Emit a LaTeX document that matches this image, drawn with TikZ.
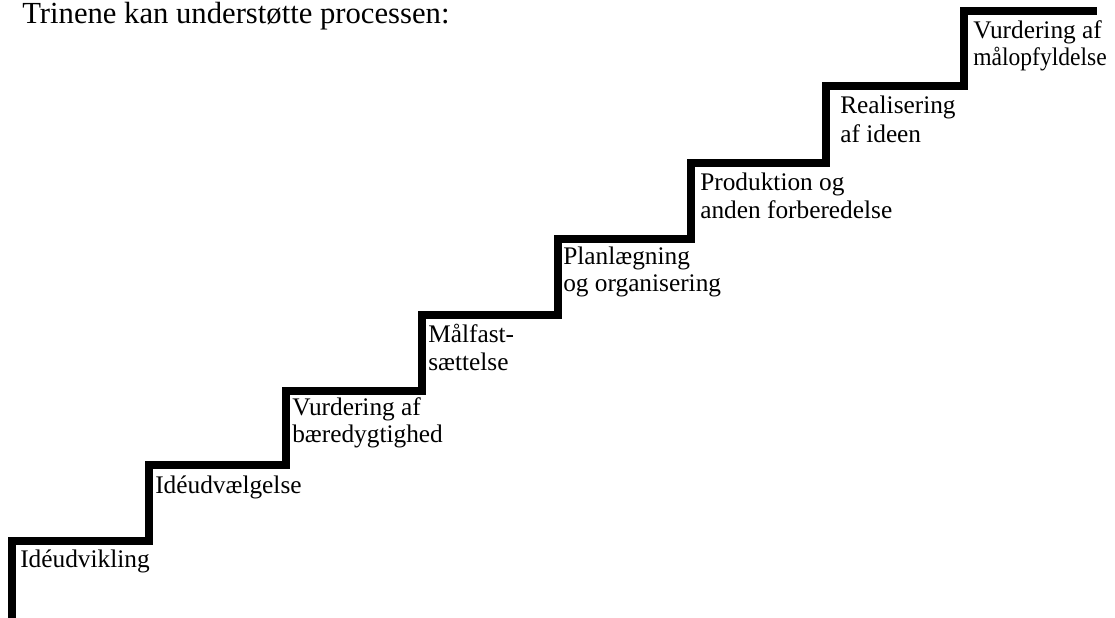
\documentclass[tikz,border=0pt]{standalone}
\usepackage{fontspec}
\setmainfont{Liberation Serif}
\begin{document}
\begin{tikzpicture}[x=0.75pt,y=-0.75pt,
  stair/.style={line width=6pt,line join=miter,line cap=butt,black},
  lbl/.style={anchor=base west,inner sep=0pt,font=\fontsize{19}{22}\selectfont},
  ttl/.style={anchor=base west,inner sep=0pt,font=\fontsize{23}{26}\selectfont}]
\useasboundingbox (0,0) rectangle (1115,618);
\draw[stair] (12,625) -- (12,541) -- (149,541) -- (149,465) -- (286,465) -- (286,391)
  -- (422,391) -- (422,315) -- (558,315) -- (558,239) -- (691,239) -- (691,163)
  -- (826,163) -- (826,86) -- (964,86) -- (964,11) -- (1097,11);
\node[ttl] (title) at (22,23) {Trinene kan understøtte processen:};
\node[lbl] (s1) at (20,567) {Idéudvikling};
\node[lbl] (s2) at (155,493) {Idéudvælgelse};
\node[lbl] (s3a) at (292,415) {Vurdering af};
\node[lbl] (s3b) at (292,442) {bæredygtighed};
\node[lbl] (s4a) at (428,342) {Målfast-};
\node[lbl] (s4b) at (428,370) {sættelse};
\node[lbl] (s5a) at (563,264) {Planlægning};
\node[lbl] (s5b) at (563,291) {og organisering};
\node[lbl] (s6a) at (700,190) {Produktion og};
\node[lbl] (s6b) at (700,218) {anden forberedelse};
\node[lbl] (s7a) at (840,113) {Realisering};
\node[lbl] (s7b) at (840,142) {af ideen};
\node[lbl] (s8a) at (973,38) {Vurdering af};
\node[lbl] (s8b) at (973,65) {\scalebox{0.93}[1]{målopfyldelse}};
\end{tikzpicture}
\end{document}
